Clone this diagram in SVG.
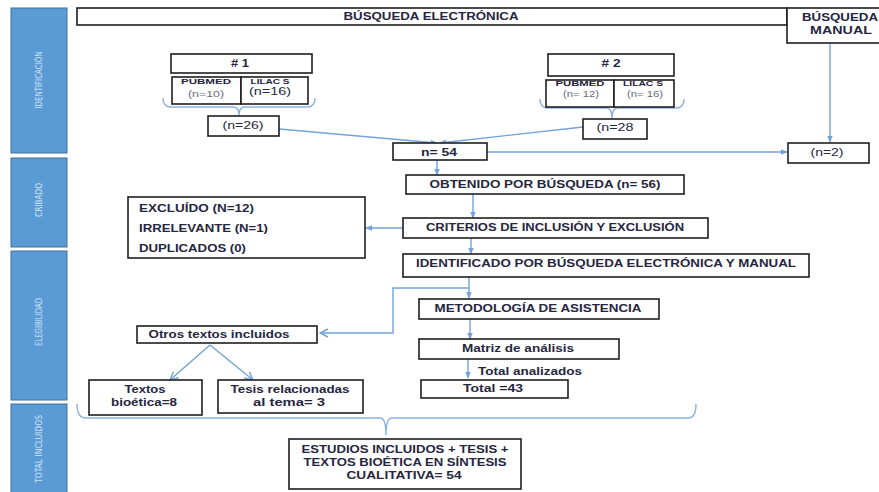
<svg xmlns="http://www.w3.org/2000/svg" width="879" height="492" viewBox="0 0 879 492">
<defs>
<style>
.bg{fill:#ffffff}
.side{fill:#5b9bd5;stroke:#41719c;stroke-width:1}
.st{font-family:"DejaVu Sans Condensed","Liberation Sans",sans-serif;font-size:9.5px;fill:#d4e5f5}
.box{fill:#ffffff;stroke:#1e1e1e;stroke-width:1.6}
.t{font-family:"Liberation Sans",Arial,sans-serif;font-weight:bold;font-size:10px;fill:#262640;text-anchor:middle}
.tl{font-family:"Liberation Sans",Arial,sans-serif;font-weight:bold;font-size:10px;fill:#262640}
.g{font-family:"Liberation Sans",Arial,sans-serif;font-size:9.5px;fill:#6a6a7a;text-anchor:middle}
.n{font-family:"Liberation Sans",Arial,sans-serif;font-size:10.5px;fill:#262640;text-anchor:middle}
.sm{font-family:"Liberation Sans",Arial,sans-serif;font-weight:bold;font-size:8px;fill:#1f2240;text-anchor:middle}
.c{fill:none;stroke:#72a2da;stroke-width:1.4}
.br{fill:none;stroke:#8db2e2;stroke-width:1.5}
</style>
<marker id="af" viewBox="0 0 10 10" refX="9" refY="5" markerWidth="7" markerHeight="7" orient="auto" markerUnits="userSpaceOnUse">
<path d="M0,1 L10,5 L0,9 Z" fill="#72a2da"/>
</marker>
<marker id="ao" viewBox="0 0 10 10" refX="9" refY="5" markerWidth="10" markerHeight="10" orient="auto" markerUnits="userSpaceOnUse">
<path d="M1,1 L9,5 L1,9" fill="none" stroke="#72a2da" stroke-width="1.4"/>
</marker>
</defs>
<rect class="bg" x="0" y="0" width="879" height="492"/>

<g id="sidebar">
<g id="sec-identificacion"><rect class="side" x="11" y="8" width="56" height="145"/><text class="st" transform="translate(42,80) rotate(-90)" text-anchor="middle" textLength="57" lengthAdjust="spacingAndGlyphs">IDENTIFICACIÓN</text></g>
<g id="sec-cribado"><rect class="side" x="11" y="158" width="56" height="89"/><text class="st" transform="translate(42,200) rotate(-90)" text-anchor="middle" textLength="34" lengthAdjust="spacingAndGlyphs">CRIBADO</text></g>
<g id="sec-elegibilidad"><rect class="side" x="11" y="251" width="56" height="149"/><text class="st" transform="translate(42,322) rotate(-90)" text-anchor="middle" textLength="48" lengthAdjust="spacingAndGlyphs">ELEGIBILIDAD</text></g>
<g id="sec-total"><rect class="side" x="11" y="404" width="56" height="92"/><text class="st" transform="translate(42,449) rotate(-90)" text-anchor="middle" textLength="68" lengthAdjust="spacingAndGlyphs">TOTAL  INCLUIDOS</text></g>
</g>

<g id="connectors">
<path class="br" d="M163,98 Q163,107 171,107 L233,107 Q239,107 239,115 Q239,107 245,107 L307,107 Q315,107 315,98"/>
<path class="br" d="M540,99 Q540,108 548,108 L606,108 Q612,108 612,118 Q612,108 618,108 L676,108 Q684,108 684,99"/>
<path class="br" d="M77,404 Q77,418 86,418 L380,418 Q386,418 386,435 Q386,418 392,418 L688,418 Q696,418 696,404"/>
<line class="c" x1="279" y1="129" x2="437" y2="143" marker-end="url(#af)"/>
<line class="c" x1="583" y1="127" x2="440" y2="143" marker-end="url(#af)"/>
<line class="c" x1="487" y1="152" x2="787" y2="152" marker-end="url(#af)"/>
<line class="c" x1="830" y1="43" x2="830" y2="142" marker-end="url(#af)"/>
<line class="c" x1="437" y1="160" x2="437" y2="175" marker-end="url(#af)"/>
<line class="c" x1="473" y1="194" x2="473" y2="218" marker-end="url(#af)"/>
<line class="c" x1="403" y1="228" x2="366" y2="228" marker-end="url(#af)"/>
<line class="c" x1="471" y1="238" x2="471" y2="254" marker-end="url(#af)"/>
<line class="c" x1="469" y1="277" x2="469" y2="298" marker-end="url(#af)"/>
<path class="c" d="M469,288 L393,288 L393,333 L320,333" marker-end="url(#ao)"/>
<line class="c" x1="470" y1="319" x2="470" y2="339" marker-end="url(#af)"/>
<line class="c" x1="468" y1="359" x2="468" y2="378" marker-end="url(#af)"/>
<line class="c" x1="210" y1="345" x2="170" y2="380" marker-end="url(#ao)"/>
<line class="c" x1="210" y1="345" x2="253" y2="380" marker-end="url(#ao)"/>
</g>

<g id="n-busqueda-electronica"><rect class="box" x="77" y="8" width="710" height="17"/><text class="t" x="431" y="20" textLength="175" lengthAdjust="spacingAndGlyphs">BÚSQUEDA ELECTRÓNICA</text></g>
<g id="n-busqueda-manual"><rect class="box" x="787" y="8" width="100" height="35"/><text class="t" x="840" y="21" textLength="76" lengthAdjust="spacingAndGlyphs">BÚSQUEDA</text><text class="t" x="841" y="34" textLength="62" lengthAdjust="spacingAndGlyphs">MANUAL</text></g>

<g id="n-hash1"><rect class="box" x="171" y="54" width="141" height="19"/><text class="t" x="240" y="67" textLength="18" lengthAdjust="spacingAndGlyphs"># 1</text></g>
<g id="n-pubmed1"><rect class="box" x="172" y="77" width="69" height="27"/><text class="sm" x="206" y="84" textLength="50" lengthAdjust="spacingAndGlyphs">PUBMED</text><text class="g" x="206" y="97" textLength="36" lengthAdjust="spacingAndGlyphs">(n=10)</text></g>
<g id="n-lilacs1"><rect class="box" x="241" y="77" width="67" height="27"/><text class="sm" x="270" y="84" textLength="39" lengthAdjust="spacingAndGlyphs">LILAC S</text><text class="n" x="270" y="95" textLength="42" lengthAdjust="spacingAndGlyphs">(n=16)</text></g>
<g id="n-n26"><rect class="box" x="208" y="116" width="71" height="20"/><text class="n" x="243" y="129" textLength="41" lengthAdjust="spacingAndGlyphs">(n=26)</text></g>

<g id="n-hash2"><rect class="box" x="548" y="54" width="126" height="22"/><text class="t" x="611" y="67" textLength="19" lengthAdjust="spacingAndGlyphs"># 2</text></g>
<g id="n-pubmed2"><rect class="box" x="546" y="80" width="68" height="27"/><text class="sm" x="580" y="86" textLength="49" lengthAdjust="spacingAndGlyphs">PUBMED</text><text class="g" x="581" y="97" style="font-size:9px" textLength="36" lengthAdjust="spacingAndGlyphs">(n= 12)</text></g>
<g id="n-lilacs2"><rect class="box" x="614" y="80" width="60" height="27"/><text class="sm" x="643" y="86" textLength="40" lengthAdjust="spacingAndGlyphs">LILAC S</text><text class="g" x="645" y="97" style="font-size:9px" textLength="36" lengthAdjust="spacingAndGlyphs">(n= 16)</text></g>
<g id="n-n28"><rect class="box" x="583" y="119" width="64" height="20"/><text class="n" x="615" y="131" textLength="37" lengthAdjust="spacingAndGlyphs">(n=28</text></g>

<g id="n-n54"><rect class="box" x="393" y="143" width="94" height="17"/><text class="t" x="439" y="156" textLength="36" lengthAdjust="spacingAndGlyphs">n= 54</text></g>
<g id="n-n2"><rect class="box" x="788" y="143" width="81" height="20"/><text class="n" x="827" y="156" textLength="33" lengthAdjust="spacingAndGlyphs">(n=2)</text></g>

<g id="n-obtenido"><rect class="box" x="406" y="175" width="278" height="19"/><text class="t" x="545" y="188" textLength="231" lengthAdjust="spacingAndGlyphs">OBTENIDO POR BÚSQUEDA  (n= 56)</text></g>
<g id="n-criterios"><rect class="box" x="403" y="218" width="305" height="20"/><text class="t" x="555" y="231" textLength="258" lengthAdjust="spacingAndGlyphs">CRITERIOS DE  INCLUSIÓN  Y EXCLUSIÓN</text></g>
<g id="n-excluido"><rect class="box" x="128" y="197" width="237" height="61"/>
<text class="tl" x="139" y="212" textLength="115" lengthAdjust="spacingAndGlyphs">EXCLUÍDO  (N=12)</text>
<text class="tl" x="139" y="232" textLength="129" lengthAdjust="spacingAndGlyphs">IRRELEVANTE  (N=1)</text>
<text class="tl" x="139" y="252" textLength="107" lengthAdjust="spacingAndGlyphs">DUPLICADOS (0)</text></g>
<g id="n-identificado"><rect class="box" x="403" y="254" width="406" height="23"/><text class="t" x="606" y="267" textLength="380" lengthAdjust="spacingAndGlyphs">IDENTIFICADO POR BÚSQUEDA  ELECTRÓNICA  Y MANUAL</text></g>
<g id="n-metodologia"><rect class="box" x="419" y="299" width="240" height="20"/><text class="t" x="538" y="312" textLength="207" lengthAdjust="spacingAndGlyphs">METODOLOGÍA DE ASISTENCIA</text></g>
<g id="n-matriz"><rect class="box" x="419" y="339" width="200" height="20"/><text class="t" x="518" y="352" textLength="112" lengthAdjust="spacingAndGlyphs">Matriz de análisis</text></g>
<g id="l-total-analizados"><text class="tl" x="478" y="375" textLength="104" lengthAdjust="spacingAndGlyphs" style="font-size:11px">Total analizados</text></g>
<g id="n-total43"><rect class="box" x="421" y="380" width="147" height="18"/><text class="t" x="493" y="392" textLength="60" lengthAdjust="spacingAndGlyphs">Total =43</text></g>

<g id="n-otros"><rect class="box" x="137" y="326" width="180" height="17"/><text class="t" x="219" y="338" textLength="141" lengthAdjust="spacingAndGlyphs">Otros textos  incluidos</text></g>
<g id="n-textos-bioetica"><rect class="box" x="89" y="380" width="113" height="35"/><text class="t" x="145" y="393" textLength="41" lengthAdjust="spacingAndGlyphs">Textos</text><text class="t" x="144" y="406" textLength="66" lengthAdjust="spacingAndGlyphs">bioética=8</text></g>
<g id="n-tesis"><rect class="box" x="218" y="380" width="145" height="33"/><text class="t" x="290" y="393" textLength="119" lengthAdjust="spacingAndGlyphs">Tesis relacionadas</text><text class="t" x="289" y="406" textLength="72" lengthAdjust="spacingAndGlyphs">al tema= 3</text></g>

<g id="n-estudios"><rect class="box" x="289" y="439" width="232" height="50"/>
<text class="t" x="405" y="453" textLength="207" lengthAdjust="spacingAndGlyphs">ESTUDIOS INCLUIDOS + TESIS +</text>
<text class="t" x="405" y="466" textLength="203" lengthAdjust="spacingAndGlyphs">TEXTOS BIOÉTICA EN SÍNTESIS</text>
<text class="t" x="404" y="479" textLength="115" lengthAdjust="spacingAndGlyphs">CUALITATIVA= 54</text></g>
</svg>
